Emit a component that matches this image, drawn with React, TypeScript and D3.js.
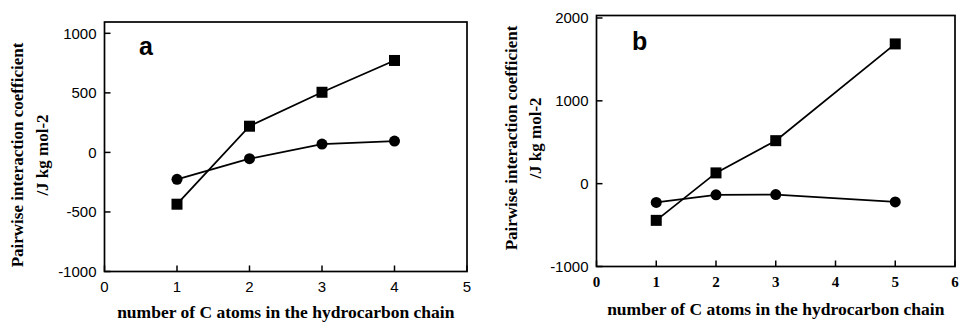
import * as d3 from "d3";
import { useEffect, useRef } from "react";

// panel a
const xA = [1, 2, 3, 4];
const squaresA = [-435, 220, 505, 772];
const circlesA = [-226, -53, 70, 95];
const xTicksA = [0, 1, 2, 3, 4, 5];
const yTicksA = [-1000, -500, 0, 500, 1000];

// panel b
const xB = [1, 2, 3, 5];
const squaresB = [-443, 130, 519, 1687];
const circlesB = [-226, -135, -132, -220];
const xTicksB = [0, 1, 2, 3, 4, 5, 6];
const yTicksB = [-1000, 0, 1000, 2000];

const Y_TITLE = "Pairwise interaction coefficient";
const Y_UNIT = "/J kg mol-2";
const X_TITLE = "number of C atoms in the hydrocarbon chain";

interface Panel {
  letter: string;
  xs: number[];
  sq: number[];
  ci: number[];
  xDom: [number, number];
  yDom: [number, number];
  xTicks: number[];
  yTicks: number[];
  box: { l: number; t: number; r: number; b: number };
  xTickFont: string;
  letterPos: [number, number];
  yTitleX: [number, number];
  yTitleCy: number;
  xTitleY: number;
}

const panels: Panel[] = [
  {
    letter: "a", xs: xA, sq: squaresA, ci: circlesA,
    xDom: [0, 5], yDom: [-1000, 1095], xTicks: xTicksA, yTicks: yTicksA,
    box: { l: 104.5, t: 22, r: 467, b: 271.5 },
    xTickFont: "Liberation Sans, Arial, sans-serif",
    letterPos: [139, 55], yTitleX: [17, 42], yTitleCy: 155, xTitleY: 318,
  },
  {
    letter: "b", xs: xB, sq: squaresB, ci: circlesB,
    xDom: [0, 6], yDom: [-1000, 2030], xTicks: xTicksB, yTicks: yTicksB,
    box: { l: 596.5, t: 15.5, r: 955, b: 266.5 },
    xTickFont: "Liberation Serif, Times New Roman, serif",
    letterPos: [632, 50], yTitleX: [511, 535], yTitleCy: 138, xTitleY: 315,
  },
];

export default function App() {
  const ref = useRef<SVGSVGElement>(null);

  useEffect(() => {
    const svg = d3.select(ref.current);
    svg.selectAll("*").remove();

    panels.forEach((p) => {
      const { l, t, r, b } = p.box;
      const x = d3.scaleLinear().domain(p.xDom).range([l, r]);
      const y = d3.scaleLinear().domain(p.yDom).range([b, t]);
      const g = svg.append("g");

      g.append("rect")
        .attr("x", l).attr("y", t).attr("width", r - l).attr("height", b - t)
        .attr("fill", "none").attr("stroke", "#000").attr("stroke-width", 1.7);

      // inward ticks
      p.xTicks.forEach((v) => {
        g.append("line")
          .attr("x1", x(v)).attr("x2", x(v)).attr("y1", b).attr("y2", b - 6)
          .attr("stroke", "#000").attr("stroke-width", 1.5);
        g.append("text")
          .attr("x", x(v)).attr("y", b + 20.5)
          .attr("text-anchor", "middle")
          .attr("font-family", p.xTickFont)
          .attr("font-weight", p.letter === "b" ? 700 : 400)
          .attr("font-size", 15)
          .text(v);
      });
      p.yTicks.forEach((v) => {
        g.append("line")
          .attr("x1", l).attr("x2", l + 6).attr("y1", y(v)).attr("y2", y(v))
          .attr("stroke", "#000").attr("stroke-width", 1.5);
        g.append("text")
          .attr("x", l - 8).attr("y", y(v) + 5.5)
          .attr("text-anchor", "end")
          .attr("font-family", "Liberation Sans, Arial, sans-serif")
          .attr("font-size", 15)
          .text(v);
      });

      const line = d3.line<number>().x((_, i) => x(p.xs[i])).y((d) => y(d));
      [p.sq, p.ci].forEach((series) => {
        g.append("path")
          .attr("d", line(series))
          .attr("fill", "none").attr("stroke", "#000").attr("stroke-width", 1.8);
      });
      p.sq.forEach((v, i) => {
        g.append("rect")
          .attr("x", x(p.xs[i]) - 5.5).attr("y", y(v) - 5.5)
          .attr("width", 11).attr("height", 11).attr("fill", "#000");
      });
      p.ci.forEach((v, i) => {
        g.append("circle")
          .attr("cx", x(p.xs[i])).attr("cy", y(v)).attr("r", 5.5).attr("fill", "#000");
      });

      g.append("text")
        .attr("x", p.letterPos[0]).attr("y", p.letterPos[1])
        .attr("font-family", "Liberation Sans, Arial, sans-serif")
        .attr("font-weight", 700).attr("font-size", 25)
        .text(p.letter);

      [Y_TITLE, Y_UNIT].forEach((s, i) => {
        g.append("text")
          .attr("transform", `translate(${p.yTitleX[i]},${p.yTitleCy}) rotate(-90)`)
          .attr("text-anchor", "middle")
          .attr("dy", "0.35em")
          .attr("font-family", "Liberation Serif, Times New Roman, serif")
          .attr("font-weight", 700).attr("font-size", 17)
          .text(s);
      });

      g.append("text")
        .attr("x", (l + r) / 2).attr("y", p.xTitleY)
        .attr("text-anchor", "middle")
        .attr("font-family", "Liberation Serif, Times New Roman, serif")
        .attr("font-weight", 700).attr("font-size", 17.5)
        .text(X_TITLE);
    });
  }, []);

  return (
    <svg
      ref={ref}
      width={960}
      height={323}
      style={{ position: "absolute", left: 0, top: 0, background: "#fff" }}
    />
  );
}
